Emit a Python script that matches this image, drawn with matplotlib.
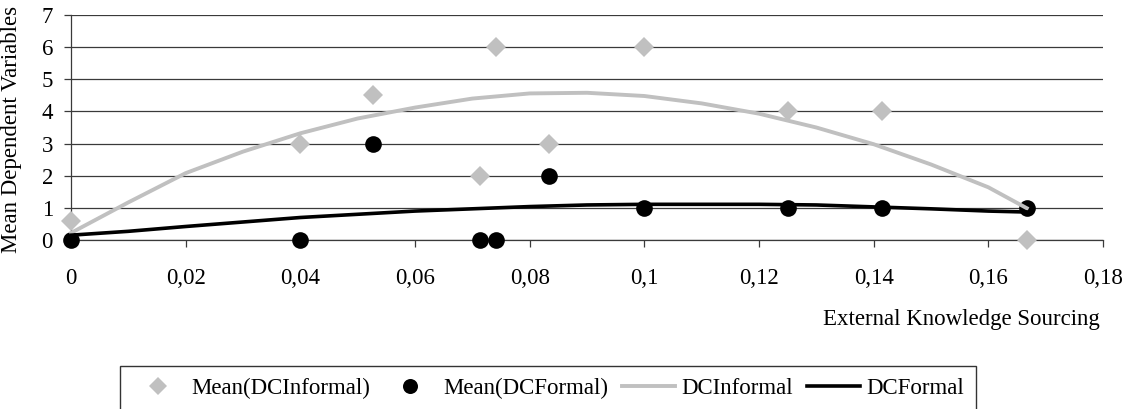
import numpy as np
import matplotlib
matplotlib.use("Agg")
import matplotlib.pyplot as plt

plt.rcParams['font.family'] = ['Liberation Serif', 'DejaVu Serif']
plt.rcParams['font.size'] = 16.5

# observed means
x_pts = [0, 0.04, 0.0526, 0.0714, 0.0741, 0.0833, 0.1, 0.125, 0.1415, 0.1667]
dc_informal_mean = [0.6, 3, 4.5, 2, 6, 3, 6, 4, 4, 0]
dc_formal_mean = [0, 0, 3, 0, 0, 2, 1, 1, 1, 1]

# fitted curves
x_fit = [0, 0.01, 0.02, 0.03, 0.04, 0.05, 0.06, 0.07, 0.08, 0.09,
         0.10, 0.11, 0.12, 0.13, 0.14, 0.15, 0.16, 0.1667]
dc_informal_fit = [0.22, 1.17, 2.08, 2.75, 3.32, 3.78, 4.12, 4.40, 4.56, 4.58,
                   4.48, 4.25, 3.93, 3.50, 2.98, 2.35, 1.64, 0.99]
dc_formal_fit = [0.15, 0.27, 0.42, 0.56, 0.70, 0.80, 0.90, 0.97, 1.04, 1.09,
                 1.11, 1.11, 1.11, 1.09, 1.03, 0.97, 0.90, 0.87]

xticks = [0, 0.02, 0.04, 0.06, 0.08, 0.1, 0.12, 0.14, 0.16, 0.18]
xtick_labels = ['0', '0,02', '0,04', '0,06', '0,08', '0,1', '0,12', '0,14', '0,16', '0,18']

gray = '#c0c0c0'

fig = plt.figure(figsize=(11.28, 4.09), dpi=100)
ax = fig.add_axes([71/1128, 1-240/409, (1103-71)/1128, 225/409])

h1, = ax.plot(x_pts, dc_informal_mean, 'D', color=gray, ms=10.5, mew=0,
              clip_on=False, zorder=3, label='Mean(DCInformal)')
h2, = ax.plot(x_pts, dc_formal_mean, 'o', color='black', ms=12, mew=0,
              clip_on=False, zorder=3, label='Mean(DCFormal)')
h3, = ax.plot(x_fit, dc_informal_fit, '-', color=gray, lw=2.8,
              clip_on=False, zorder=4, label='DCInformal')
h4, = ax.plot(x_fit, dc_formal_fit, '-', color='black', lw=2.6,
              clip_on=False, zorder=4, label='DCFormal')

ax.set_xlim(0, 0.18)
ax.set_ylim(0, 7)
ax.set_xticks(xticks)
ax.set_xticklabels(xtick_labels)
ax.set_yticks(range(8))
ax.yaxis.grid(True, color='#3a3a3a', lw=0.9)
ax.set_axisbelow(True)
for s in ['top', 'right']:
    ax.spines[s].set_visible(False)
for s in ['left', 'bottom']:
    ax.spines[s].set_color('#3a3a3a')
    ax.spines[s].set_linewidth(0.9)
ax.tick_params(axis='x', direction='out', length=5, width=0.9, color='#3a3a3a', pad=15)
ax.tick_params(axis='y', direction='out', length=5, width=0.9, color='#3a3a3a', pad=8)

fig.text(12/1128, 1-129/409, 'Mean Dependent Variables', rotation=90,
         ha='center', va='center')
fig.text(1100/1128, 1-320/409, 'External Knowledge Sourcing', ha='right', va='center')

leg = fig.legend(handles=[h1, h2, h3, h4], loc='upper left',
                 bbox_to_anchor=(120/1128, 1-366/409), ncol=4, frameon=True,
                 fancybox=False, edgecolor='black', handlelength=2.3,
                 handletextpad=0.3, columnspacing=0.6, borderpad=0.5,
                 borderaxespad=0, markerscale=0.9)
leg.get_frame().set_linewidth(1.0)

fig.savefig('out.png', dpi=100)
